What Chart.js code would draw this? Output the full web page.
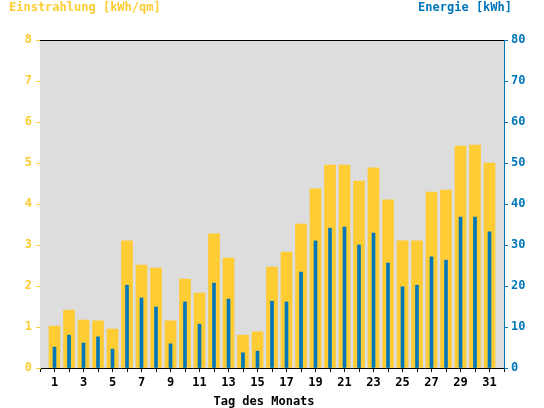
<!DOCTYPE html>
<html>
<head>
    <title>Einstrahlung / Energie</title>
    <script src="https://cdn.jsdelivr.net/npm/chart.js@4/dist/chart.umd.min.js"></script>
    <style>
        body { margin: 0; background: #fff; }
        #wrap { width: 544px; height: 408px; }
    </style>
</head>
<body>
    <div id="wrap"><canvas id="chart" width="544" height="408"></canvas></div>
    <script>
        const YELLOW = '#FFCC33';
        const BLUE = '#0077BB';
        const FONT = 'DejaVu Sans Mono';

        // Tag des Monats
        const days = [1, 2, 3, 4, 5, 6, 7, 8, 9, 10, 11, 12, 13, 14, 15, 16,
                      17, 18, 19, 20, 21, 22, 23, 24, 25, 26, 27, 28, 29, 30, 31];
        // Einstrahlung [kWh/qm]
        const einstrahlung = [1.02, 1.41, 1.17, 1.15, 0.95, 3.10, 2.51, 2.44, 1.15, 2.17, 1.83,
                              3.27, 2.68, 0.80, 0.88, 2.46, 2.83, 3.51, 4.37, 4.95, 4.95, 4.56,
                              4.88, 4.10, 3.10, 3.10, 4.29, 4.34, 5.41, 5.44, 5.00];
        // Energie [kWh]
        const energie = [5.1, 8.0, 6.1, 7.6, 4.6, 20.2, 17.1, 14.9, 5.9, 16.1, 10.7,
                         20.7, 16.8, 3.7, 4.1, 16.3, 16.1, 23.4, 31.0, 34.1, 34.4, 30.0,
                         32.9, 25.6, 19.8, 20.2, 27.1, 26.3, 36.8, 36.8, 33.2];

        const xLabeled = [1, 3, 5, 7, 9, 11, 13, 15, 17, 19, 21, 23, 25, 27, 29, 31];

        const frame = {
            id: 'frame',
            beforeDatasetsDraw(chart) {
                const { ctx, chartArea: a } = chart;
                ctx.save();
                ctx.fillStyle = '#DDDDDD';
                ctx.fillRect(a.left, a.top, a.right - a.left, a.bottom - a.top);
                ctx.restore();
            },
            afterDraw(chart) {
                const { ctx, chartArea: a } = chart;
                ctx.save();
                ctx.strokeStyle = '#000';
                ctx.lineWidth = 1;
                ctx.beginPath();
                ctx.moveTo(a.left, a.top + 0.5);
                ctx.lineTo(a.right, a.top + 0.5);
                ctx.stroke();

                ctx.font = `bold 12px "${FONT}"`;
                ctx.textBaseline = 'alphabetic';
                ctx.fillStyle = YELLOW;
                ctx.textAlign = 'left';
                ctx.fillText('Einstrahlung [kWh/qm]', 9, 11);
                ctx.fillStyle = BLUE;
                ctx.textAlign = 'right';
                ctx.fillText('Energie [kWh]', 512, 11);
                ctx.fillStyle = '#000';
                ctx.textAlign = 'center';
                ctx.fillText('Tag des Monats', 264, 405);
                ctx.restore();
            }
        };

        const ctx = document.getElementById('chart').getContext('2d');
        new Chart(ctx, {
            type: 'bar',
            data: {
                datasets: [{
                    label: 'Energie [kWh]',
                    data: days.map((d, i) => ({ x: d, y: energie[i] })),
                    backgroundColor: BLUE,
                    barThickness: 3,
                    grouped: false,
                    order: 0,
                    yAxisID: 'y1'
                }, {
                    label: 'Einstrahlung [kWh/qm]',
                    data: days.map((d, i) => ({ x: d, y: einstrahlung[i] })),
                    backgroundColor: YELLOW,
                    barThickness: 11,
                    grouped: false,
                    order: 1,
                    yAxisID: 'y'
                }]
            },
            options: {
                responsive: false,
                animation: false,
                layout: { padding: { top: 40, left: 0, right: 0, bottom: 0 } },
                plugins: {
                    legend: { display: false },
                    tooltip: { enabled: false }
                },
                scales: {
                    x: {
                        type: 'linear',
                        min: 0,
                        max: 32,
                        offset: false,
                        border: { color: '#000', width: 1 },
                        grid: { drawOnChartArea: false, color: '#000', tickLength: 4, offset: false },
                        ticks: {
                            stepSize: 1,
                            autoSkip: false,
                            maxRotation: 0,
                            padding: 4,
                            color: '#000',
                            font: { family: FONT, size: 12, weight: 'bold' },
                            callback: v => xLabeled.includes(v) ? String(v) : ''
                        },
                        afterFit(scale) { scale.height = 40; }
                    },
                    y: {
                        position: 'left',
                        min: 0,
                        max: 8,
                        border: { color: YELLOW, width: 1 },
                        grid: { drawOnChartArea: false, color: YELLOW, tickLength: 4 },
                        ticks: {
                            stepSize: 1,
                            padding: 4,
                            color: YELLOW,
                            font: { family: FONT, size: 12, weight: 'bold' }
                        },
                        afterFit(scale) { scale.width = 40; }
                    },
                    y1: {
                        position: 'right',
                        min: 0,
                        max: 80,
                        border: { color: BLUE, width: 1 },
                        grid: { drawOnChartArea: false, color: BLUE, tickLength: 4 },
                        ticks: {
                            stepSize: 10,
                            padding: 3,
                            color: BLUE,
                            font: { family: FONT, size: 12, weight: 'bold' }
                        },
                        afterFit(scale) { scale.width = 40; }
                    }
                }
            },
            plugins: [frame]
        });
    </script>
</body>
</html>
